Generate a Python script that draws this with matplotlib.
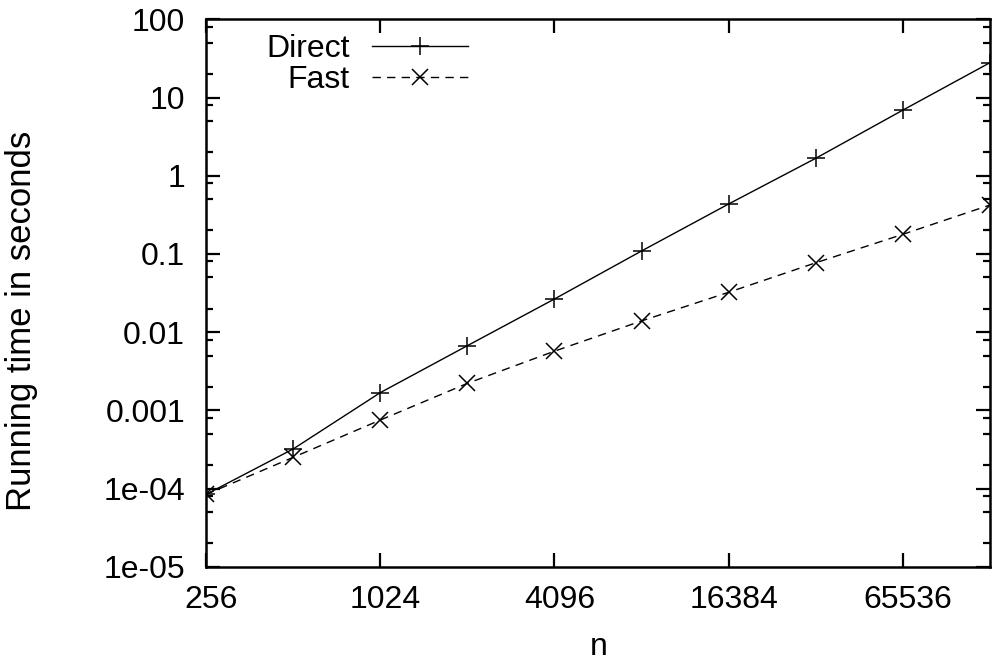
import matplotlib
matplotlib.use("Agg")
import matplotlib.pyplot as plt
from matplotlib.ticker import FixedLocator, NullLocator, FixedFormatter
import matplotlib.transforms as mtransforms

plt.rcParams['font.family'] = ['Liberation Sans', 'DejaVu Sans']

# Data
n_values = [256, 512, 1024, 2048, 4096, 8192, 16384, 32768, 65536, 131072]
direct_times = [8.4e-5, 3.2e-4, 1.68e-3, 6.7e-3, 0.0265, 0.109, 0.435, 1.67, 6.9, 27.9]
fast_times = [8.4e-5, 2.5e-4, 7.5e-4, 2.21e-3, 5.7e-3, 0.0139, 0.0323, 0.077, 0.178, 0.422]

x_ticks = [256, 1024, 4096, 16384, 65536]
x_tick_labels = ['256', '1024', '4096', '16384', '65536']
y_ticks = [1e-5, 1e-4, 1e-3, 1e-2, 1e-1, 1, 10, 100]
y_tick_labels = ['1e-05', '1e-04', '0.001', '0.01', '0.1', '1', '10', '100']

W, H = 992, 662
fig = plt.figure(figsize=(W / 100, H / 100), dpi=100)
left, right, top, bottom = 206, 990, 19.3, 566.7
ax = fig.add_axes([left / W, (H - bottom) / H, (right - left) / W, (bottom - top) / H])

ax.set_xscale('log', base=2)
ax.set_yscale('log')

ln1, = ax.plot(n_values, direct_times, color='black', linewidth=1.0, linestyle='-',
               marker='+', markersize=13, markeredgewidth=1.1, label='Direct')
ln2, = ax.plot(n_values, fast_times, color='black', linewidth=1.0, linestyle=(0, (6, 4.5)),
               marker='x', markersize=11, markeredgewidth=1.1, label='Fast')

ax.set_xlim(256, 131072)
ax.set_ylim(1e-5, 100)

ax.xaxis.set_major_locator(FixedLocator(x_ticks))
ax.xaxis.set_major_formatter(FixedFormatter(x_tick_labels))
ax.xaxis.set_minor_locator(NullLocator())
ax.yaxis.set_major_locator(FixedLocator(y_ticks))
ax.yaxis.set_major_formatter(FixedFormatter(y_tick_labels))
minor_y = [m * 10.0 ** k for k in range(-5, 2) for m in (2, 5, 8)]
ax.yaxis.set_minor_locator(FixedLocator(minor_y))
ax.yaxis.set_minor_formatter(FixedFormatter([''] * len(minor_y)))

for sp in ax.spines.values():
    sp.set_linewidth(1.8)

ax.tick_params(which='both', direction='in', top=True, right=True, width=1.6)
ax.tick_params(which='major', length=10)
ax.tick_params(which='minor', length=5)
ax.tick_params(axis='y', which='major', pad=15, labelsize=23)
ax.tick_params(axis='x', which='major', pad=13, labelsize=23)

offset = mtransforms.ScaledTranslation(5 / 100, 0, fig.dpi_scale_trans)
for lbl in ax.get_xticklabels():
    lbl.set_transform(lbl.get_transform() + offset)

fig.text(22 / W, 1 - 321 / H, 'Running time in seconds', rotation=90,
         ha='center', va='center', fontsize=25)
fig.text(599 / W, 1 - 655 / H, 'n', ha='center', va='baseline', fontsize=23)

ax.legend(handles=[ln1, ln2], loc='upper right', bbox_to_anchor=(468 / W, 1 - 34 / H),
          bbox_transform=fig.transFigure, frameon=False, markerfirst=False,
          handlelength=96 / 31.9, handletextpad=0.7, borderpad=0, borderaxespad=0,
          labelspacing=0.03, fontsize=23)

fig.savefig('out.png', dpi=100)
